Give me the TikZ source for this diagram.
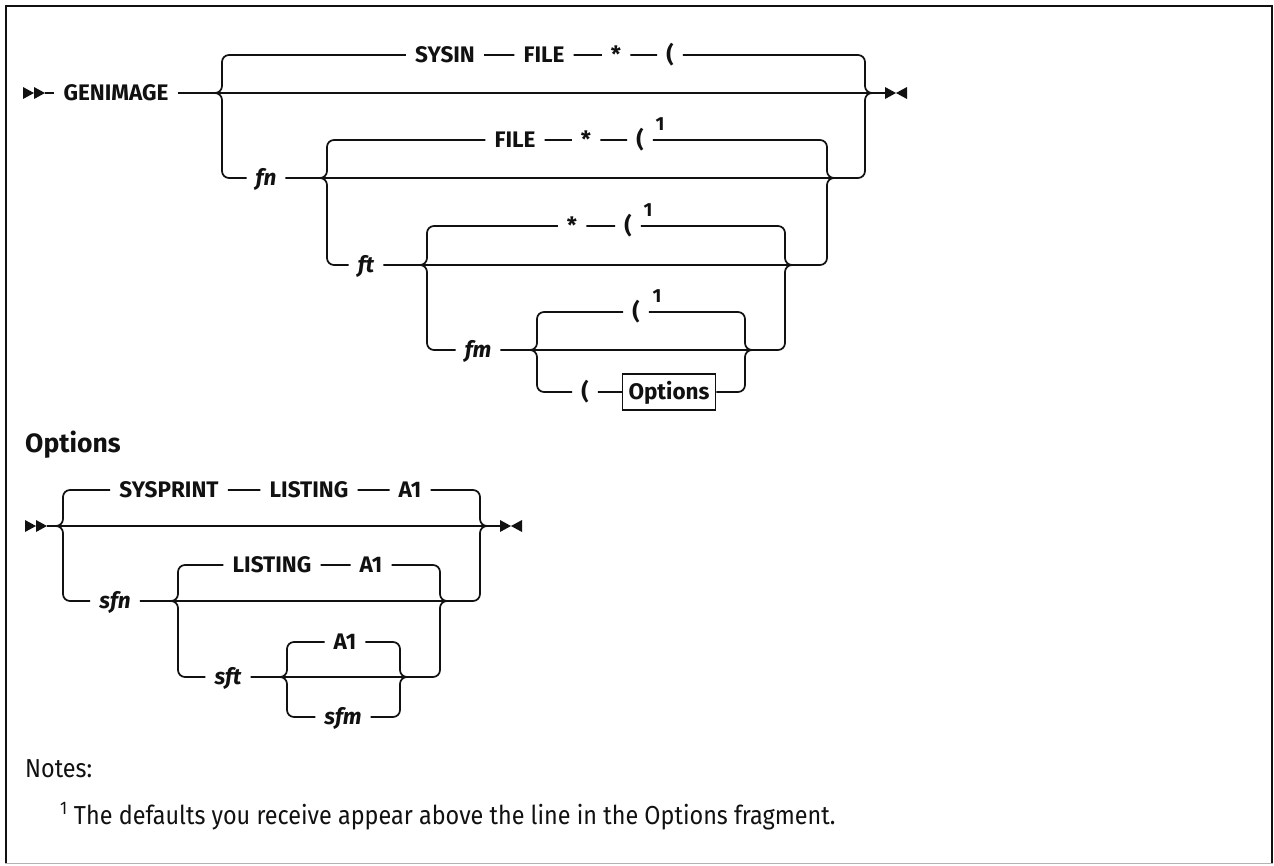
\documentclass[tikz,border=0pt]{standalone}
\usepackage{fontspec}
\setmainfont{Fira Sans}
\newfontfamily\notefam{Fira Sans}[FakeStretch=0.9]
\usepackage{tikz}
\usetikzlibrary{positioning}
\definecolor{ink}{HTML}{111111}
\definecolor{rim}{HTML}{B4B4B4}
\newcommand\kwfont{\fontsize{22.5}{27}\selectfont\bfseries}
\newcommand\varfont{\fontsize{22.5}{27}\selectfont\bfseries\itshape}

\begin{document}
\begin{tikzpicture}[x=1pt,y=-1pt,
  rail/.style={draw=ink,line width=1.7pt,rounded corners=7pt},
  kw/.style={font=\kwfont,text=ink,inner xsep=9pt,inner ysep=0pt,text height=15.5pt,text depth=0pt},
  var/.style={kw,font=\varfont},
  sup/.style={font=\fontsize{19}{22}\selectfont\bfseries,text=ink,inner sep=0pt},
  ref/.style={kw,draw=ink,line width=1.5pt,inner xsep=6pt,minimum height=36pt},
  ttl/.style={font=\fontsize{26.5}{31}\selectfont\bfseries,text=ink,inner sep=0pt},
  note/.style={font=\notefam\fontsize{26}{31}\selectfont,text=ink,inner sep=0pt}]
\useasboundingbox (0,0) rectangle (1274,865);
\fill[white] (0,0) rectangle (1274,865);
\draw[ink,line width=2pt] (6,863) -- (6,6) -- (1272,6) -- (1272,863);
\draw[rim,line width=1.5pt] (5,863.5) -- (1273,863.5);
% GENIMAGE
\foreach \x in {23,34} {\fill[ink] (\x,87) -- ++(11,6) -- ++(-11,6) -- cycle;}
\fill[ink] (885,87) -- (896,93) -- (885,99) -- cycle; \fill[ink] (907,87) -- (896,93) -- (907,99) -- cycle;
\coordinate (s1) at (45,93); \coordinate (e1) at (885,93);
\node[kw] (gen) at (116,93) {GENIMAGE};
\coordinate (l1) at (222,93); \coordinate (r1) at (865,93);
\coordinate (l2) at (327,178); \coordinate (r2) at (827,178);
\coordinate (l3) at (427,265); \coordinate (r3) at (785,265);
\coordinate (l4) at (537,350); \coordinate (r4) at (745,350);
\node[kw] (sysin) at (445,55) {SYSIN}; \node[kw] (file1) at (544,55) {FILE};
\node[kw] (ast1) at (616,55) {*}; \node[kw] (par1) at (670,55) {(};
\node[var] (fn) at (266,178) {fn};
\node[kw] (file2) at (515,140) {FILE}; \node[kw] (ast2) at (586,140) {*};
\node[kw] (par2) at (640,140) {(}; \node[sup] (n2) at (660,124) {1};
\node[var] (ft) at (366,265) {ft};
\node[kw] (ast3) at (572,226) {*}; \node[kw] (par3) at (628,226) {(};
\node[sup] (n3) at (648,210) {1};
\node[var] (fm) at (478,350) {fm};
\node[kw] (par4) at (636,312) {(}; \node[sup] (n4) at (657,296) {1};
\node[kw] (par5) at (585,392) {(}; \node[ref] (optbox) at (669,392) {Options};
\draw[rail] (s1) -- (gen) -- (e1);
\draw[rail] ([xshift=-7pt]l1) -| (l1 |- sysin) -- (sysin) -- (file1) -- (ast1) -- (par1) -| (r1) -- ([xshift=7pt]r1);
\draw[rail] ([xshift=-7pt]l1) -| (l1 |- fn) -- (fn) -- (r1 |- fn) -- (r1) -- ([xshift=7pt]r1);
\draw[rail] ([xshift=-7pt]l2) -| (l2 |- file2) -- (file2) -- (ast2) -- (par2) -| (r2) -- ([xshift=7pt]r2);
\draw[rail] ([xshift=-7pt]l2) -| (l2 |- ft) -- (ft) -- (r2 |- ft) -- (r2) -- ([xshift=7pt]r2);
\draw[rail] ([xshift=-7pt]l3) -| (l3 |- ast3) -- (ast3) -- (par3) -| (r3) -- ([xshift=7pt]r3);
\draw[rail] ([xshift=-7pt]l3) -| (l3 |- fm) -- (fm) -- (r3 |- fm) -- (r3) -- ([xshift=7pt]r3);
\draw[rail] ([xshift=-7pt]l4) -| (l4 |- par4) -- (par4) -| (r4) -- ([xshift=7pt]r4);
\draw[rail] ([xshift=-7pt]l4) -| (l4 |- par5) -- (par5) -- (optbox) -| (r4) -- ([xshift=7pt]r4);
% Options fragment
\node[ttl,anchor=base west] (otitle) at (25,452) {Options};
\foreach \x in {25,36} {\fill[ink] (\x,520) -- ++(11,6) -- ++(-11,6) -- cycle;}
\fill[ink] (500,520) -- (511,526) -- (500,532) -- cycle; \fill[ink] (522,520) -- (511,526) -- (522,532) -- cycle;
\coordinate (s2) at (47,526); \coordinate (e2) at (500,526);
\coordinate (l5) at (63,526); \coordinate (r5) at (480,526);
\coordinate (l6) at (178,601); \coordinate (r6) at (440,601);
\coordinate (l7) at (287,677); \coordinate (r7) at (400,677);
\node[kw] (sysp) at (169,490) {SYSPRINT}; \node[kw] (list1) at (309,490) {LISTING};
\node[kw] (a1) at (410,490) {A1};
\node[var] (sfn) at (115,601) {sfn};
\node[kw] (list2) at (272,565) {LISTING}; \node[kw] (a2) at (371,565) {A1};
\node[var] (sft) at (228,677) {sft};
\node[kw] (a3) at (345,642) {A1};
\node[var] (sfm) at (343,717) {sfm};
\draw[rail] (s2) -- (e2);
\draw[rail] ([xshift=-7pt]l5) -| (l5 |- sysp) -- (sysp) -- (list1) -- (a1) -| (r5) -- ([xshift=7pt]r5);
\draw[rail] ([xshift=-7pt]l5) -| (l5 |- sfn) -- (sfn) -- (r5 |- sfn) -- (r5) -- ([xshift=7pt]r5);
\draw[rail] ([xshift=-7pt]l6) -| (l6 |- list2) -- (list2) -- (a2) -| (r6) -- ([xshift=7pt]r6);
\draw[rail] ([xshift=-7pt]l6) -| (l6 |- sft) -- (sft) -- (r6 |- sft) -- (r6) -- ([xshift=7pt]r6);
\draw[rail] ([xshift=-7pt]l7) -| (l7 |- a3) -- (a3) -| (r7) -- ([xshift=7pt]r7);
\draw[rail] ([xshift=-7pt]l7) -| (l7 |- sfm) -- (sfm) -| (r7) -- ([xshift=7pt]r7);
% notes
\node[note,anchor=base west] (notes) at (25,777) {Notes:};
\node[note,anchor=base west] (fnote) at (60,824) {\textsuperscript{1} The defaults you receive appear above the line in the Options fragment.};
\end{tikzpicture}
\end{document}
